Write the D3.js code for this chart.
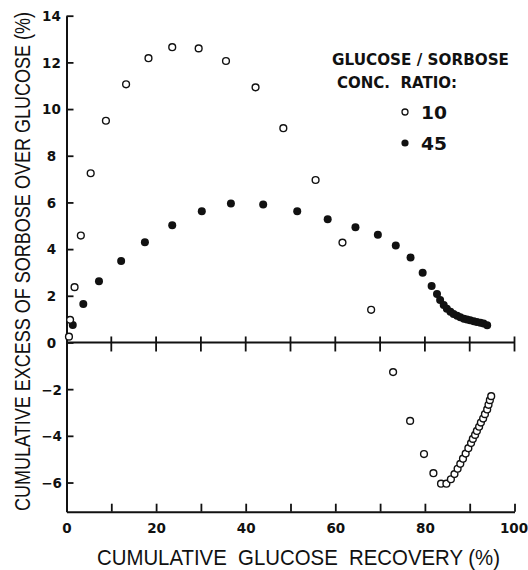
<!DOCTYPE html>
<html>
<head>
<meta charset="utf-8">
<script src="https://cdn.jsdelivr.net/npm/d3@7"></script>
<style>
  html, body { margin: 0; padding: 0; background: #fff; }
  svg text { fill: #111; }
</style>
</head>
<body>
<svg id="chart" width="528" height="570"></svg>
<script>
// ---- DATA ----
// glucose / sorbose concentration ratio 10 (open circles)
const ratio10X = [0.55, 0.8, 1.8, 3.2, 5.4, 8.8, 13.3, 18.3, 23.6, 29.5, 35.6, 42.2, 48.4, 55.6, 61.6, 68.0,
                  72.9, 76.7, 79.8, 81.9, 83.6, 84.8, 85.8, 86.6, 87.3, 87.9, 88.5, 89.1, 89.7, 90.3, 90.7,
                  91.2, 91.6, 92.1, 92.5, 93.0, 93.4, 93.9, 94.2, 94.5, 94.8];
const ratio10Y = [0.25, 0.97, 2.37, 4.58, 7.25, 9.5, 11.06, 12.18, 12.65, 12.6, 12.06, 10.93, 9.18, 6.96, 4.28, 1.40,
                  -1.27, -3.36, -4.78, -5.6, -6.05, -6.05, -5.86, -5.64, -5.41, -5.2, -4.98, -4.76, -4.53, -4.31, -4.13,
                  -3.96, -3.79, -3.61, -3.43, -3.26, -3.07, -2.87, -2.67, -2.47, -2.3];
// ratio 45 (filled circles)
const ratio45X = [1.4, 3.75, 7.25, 12.2, 17.5, 23.6, 30.2, 36.7, 43.9, 51.5, 58.3, 64.5, 69.5, 73.5, 76.8, 79.5,
                  81.5, 82.7, 83.4, 84.2, 84.9, 85.7, 86.4, 87.2, 87.9, 88.7, 89.4, 90.1, 90.9, 91.6, 92.4, 93.1, 93.9];
const ratio45Y = [0.75, 1.65, 2.62, 3.49, 4.29, 5.02, 5.62, 5.95, 5.91, 5.62, 5.28, 4.94, 4.61, 4.15, 3.64, 2.99,
                  2.42, 2.08, 1.82, 1.61, 1.45, 1.32, 1.22, 1.14, 1.08, 1.02, 0.98, 0.95, 0.91, 0.88, 0.85, 0.81, 0.74];

const xTicks = [0, 10, 20, 30, 40, 50, 60, 70, 80, 90, 100];
const xLabels = [0, 20, 40, 60, 80, 100];
const yTicks = [-6, -4, -2, 0, 2, 4, 6, 8, 10, 12, 14];
const legendRatios = ["10", "45"];

// ---- SCALES ----
const x = d3.scaleLinear().domain([0, 100]).range([66.5, 514.5]);
const y = d3.scaleLinear().domain([-7.25, 14]).range([511.7, 15.7]);

const svg = d3.select("#chart");
const ink = "#111";
const tickFont = "'DejaVu Sans', sans-serif";

// bottom axis: ticks pointing up, labels below
const gx = svg.append("g")
  .attr("transform", `translate(0,${y(-7.25)})`)
  .call(d3.axisBottom(x).tickValues(xTicks).tickSizeInner(-8).tickSizeOuter(0).tickPadding(12)
    .tickFormat(d => xLabels.includes(d) ? d : ""));

// left axis: ticks pointing right, labels centred left of the axis
const gy = svg.append("g")
  .attr("transform", `translate(${x(0)},0)`)
  .call(d3.axisLeft(y).tickValues(yTicks).tickSizeInner(-7).tickSizeOuter(0).tickPadding(15));
gy.selectAll("text").attr("text-anchor", "middle").attr("dy", "0.36em");

[gx, gy].forEach(g => {
  g.select(".domain").attr("stroke", ink).attr("stroke-width", 2);
  g.selectAll(".tick line").attr("stroke", ink).attr("stroke-width", 1.8);
  g.selectAll("text").attr("font-family", tickFont).attr("font-weight", "bold")
    .attr("font-size", 13.5).attr("fill", ink);
});
// keep "100" inside the frame
gx.selectAll(".tick text").filter(d => d === 100).attr("dx", "-1px");

// zero line with crossing ticks
const zero = svg.append("g");
zero.append("line")
  .attr("x1", x(0)).attr("x2", x(100))
  .attr("y1", y(0)).attr("y2", y(0))
  .attr("stroke", ink).attr("stroke-width", 2);
zero.selectAll("line.zt")
  .data(xTicks.filter(d => d > 0))
  .enter().append("line")
  .attr("class", "zt")
  .attr("x1", d => x(d)).attr("x2", d => x(d))
  .attr("y1", y(0) - 6).attr("y2", y(0) + 9)
  .attr("stroke", ink).attr("stroke-width", 1.8);

// ---- POINTS ----
svg.append("g").selectAll("circle")
  .data(ratio45X.map((v, i) => [v, ratio45Y[i]]))
  .enter().append("circle")
  .attr("cx", d => x(d[0])).attr("cy", d => y(d[1]))
  .attr("r", 4).attr("fill", ink);

svg.append("g").selectAll("circle")
  .data(ratio10X.map((v, i) => [v, ratio10Y[i]]))
  .enter().append("circle")
  .attr("cx", d => x(d[0])).attr("cy", d => y(d[1]))
  .attr("r", 3.4).attr("fill", "#fff").attr("stroke", ink).attr("stroke-width", 1.4);

// ---- TITLES ----
svg.append("text")
  .attr("x", 97).attr("y", 565)
  .attr("font-family", "'Liberation Sans', Arial, sans-serif").attr("font-size", 22)
  .attr("textLength", 403).attr("lengthAdjust", "spacingAndGlyphs")
  .style("white-space", "pre")
  .text("CUMULATIVE  GLUCOSE  RECOVERY (%)");

svg.append("text")
  .attr("transform", "translate(30,511) rotate(-90)")
  .attr("font-family", "'Liberation Sans', Arial, sans-serif").attr("font-size", 22)
  .attr("textLength", 499).attr("lengthAdjust", "spacingAndGlyphs")
  .text("CUMULATIVE EXCESS OF SORBOSE OVER GLUCOSE (%)");

// ---- LEGEND ----
const leg = svg.append("g").attr("font-family", tickFont).attr("font-weight", "bold");
leg.append("text").attr("x", 332).attr("y", 65).attr("font-size", 16)
  .attr("textLength", 177).attr("lengthAdjust", "spacingAndGlyphs")
  .text("GLUCOSE / SORBOSE");
leg.append("text").attr("x", 337).attr("y", 88).attr("font-size", 16)
  .attr("textLength", 120).attr("lengthAdjust", "spacingAndGlyphs")
  .text("CONC.  RATIO:").style("white-space", "pre");

const rows = leg.selectAll("g.row").data(legendRatios).enter().append("g")
  .attr("class", "row")
  .attr("transform", (d, i) => `translate(0,${i === 0 ? 112 : 143})`);
rows.append("circle")
  .attr("cx", 405).attr("cy", 0)
  .attr("r", (d, i) => i === 0 ? 3 : 3.6)
  .attr("fill", (d, i) => i === 0 ? "#fff" : ink)
  .attr("stroke", ink).attr("stroke-width", (d, i) => i === 0 ? 1.3 : 0);
rows.append("text")
  .attr("x", 421).attr("y", 6.5).attr("font-size", 17)
  .attr("textLength", 26).attr("lengthAdjust", "spacingAndGlyphs")
  .text(d => d);
</script>
</body>
</html>
